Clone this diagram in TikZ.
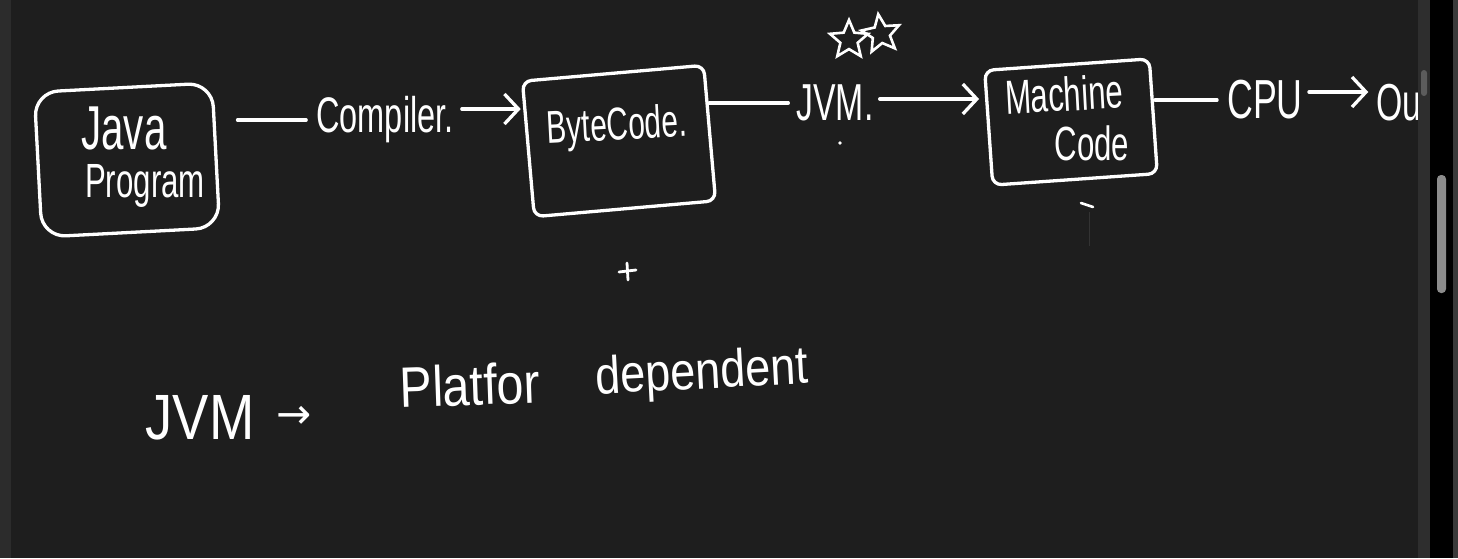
\documentclass[tikz,border=0pt]{standalone}
\usepackage{fontspec}
\setmainfont{Liberation Sans}
\newfontfamily\handfont[FakeStretch=0.65]{Liberation Sans}
\newfontfamily\handwide[FakeStretch=0.85]{Liberation Sans}
\newfontfamily\symfont{DejaVu Sans}
\usetikzlibrary{arrows.meta,shapes.geometric}
\definecolor{canvas}{HTML}{1E1E1E}
\definecolor{leftstrip}{HTML}{2C2C2C}
\definecolor{panel}{HTML}{2E2E2E}
\definecolor{edgestrip}{HTML}{3A3A3A}
\definecolor{thumbA}{HTML}{5C5C5C}
\definecolor{thumbB}{HTML}{8C8C8C}
\definecolor{faint}{HTML}{333333}
\tikzset{
  hand/.style={draw=white, line width=3.3pt, line cap=round, line join=round},
  handbox/.style={draw=white, line width=3.3pt, inner sep=0pt},
  lbl/.style={text=white, inner sep=0pt},
  arr/.style={-{Straight Barb[length=14pt,width=30pt,line width=3.3pt]}},
  starmark/.style={star, star points=5, star point ratio=2.2, draw=white, line width=2.6pt, minimum size=40pt, inner sep=0pt}
}
\begin{document}
\begin{tikzpicture}[x=1pt,y=-1pt]
\fill[canvas] (0,0) rectangle (1458,558);
\useasboundingbox (0,0) rectangle (1458,558);
\fill[leftstrip] (0,0) rectangle (11,558);

% boxes
\node[handbox, rounded corners=24pt, minimum width=178pt, minimum height=145pt, rotate=3] (java) at (127,160) {};
\node[handbox, rounded corners=9pt, minimum width=182pt, minimum height=136pt, rotate=5] (bytecode) at (619,141) {};
\node[handbox, rounded corners=9pt, minimum width=165pt, minimum height=115pt, rotate=4] (machine) at (1071,122) {};

% box labels
\node[lbl, font=\handfont\fontsize{62}{62}\selectfont] (javat) at (124,128) {Java};
\node[lbl, font=\handfont\fontsize{48}{48}\selectfont] (programt) at (145,186) {Program};
\node[lbl, font=\handfont\fontsize{46}{46}\selectfont, rotate=3] (bytecodet) at (617,128) {ByteCode.};
\node[lbl, font=\handfont\fontsize{48}{48}\selectfont, rotate=3] (machinet) at (1064,94) {Machine};
\node[lbl, font=\handfont\fontsize{48}{48}\selectfont] (codet) at (1092,143) {Code};

% chain labels
\node[lbl, font=\handfont\fontsize{50}{50}\selectfont] (compiler) at (385,120) {Compiler.};
\node[lbl, font=\handfont\fontsize{52}{52}\selectfont] (jvm) at (835,103) {JVM.};
\node[lbl, font=\handfont\fontsize{55}{55}\selectfont] (cpu) at (1265,100) {CPU};
\node[lbl, font=\handfont\fontsize{52}{52}\selectfont] (ou) at (1399,103) {Ou};

% stars
\node[starmark] (star1) at (849,40) {};
\node[starmark, rotate=8] (star2) at (881,34) {};

% connectors
\draw[hand, shorten <=20pt, shorten >=10pt] (java.east |- compiler.west) -- (compiler.west);
\coordinate (c1) at ([yshift=11pt]compiler.east);
\draw[hand, arr, shorten <=8pt, shorten >=6pt] (c1) -- (c1 -| bytecode.west);
\draw[hand, shorten <=-2pt, shorten >=8pt] (bytecode.east |- jvm.west) -- (jvm.west);
\coordinate (c2) at ([yshift=4pt]jvm.east);
\draw[hand, arr, shorten <=6pt, shorten >=8pt] (c2) -- (c2 -| machine.west);
\draw[hand, shorten >=10pt] (machine.east |- cpu.west) -- (cpu.west);
\coordinate (c3) at ([yshift=8pt]cpu.east);
\draw[hand, arr, shorten <=6pt, shorten >=8pt] (c3) -- (c3 -| ou.west);

% stray marks
\fill[white] (840,143) circle (1.8pt);
\draw[hand, line width=2.8pt] (619,272) -- (636,270);
\draw[hand, line width=2.8pt] (627,263) -- (628,280);
\draw[hand, line width=2.6pt] (1081,203) -- (1093,207);
\draw[faint, line width=1pt] (1089,212) -- (1089,246);

% bottom note
\node[lbl, font=\handwide\fontsize{64}{64}\selectfont] (jvmb) at (200,418) {JVM};
\node[lbl, font=\symfont\fontsize{42}{42}\selectfont] (arrowb) at (294,417) {→};
\node[lbl, font=\handwide\fontsize{57}{57}\selectfont, rotate=2] (platfor) at (470,385) {Platfor};
\node[lbl, font=\handwide\fontsize{53}{53}\selectfont, rotate=3] (dependent) at (702,375) {dependent};

% right panel (scrollbars)
\fill[panel] (1418,0) rectangle (1430,558);
\fill[black] (1430,0) rectangle (1453,558);
\fill[edgestrip] (1453,0) rectangle (1458,558);
\fill[thumbA, rounded corners=3pt] (1421,70) rectangle (1427,96);
\fill[thumbB, rounded corners=4pt] (1437,175) rectangle (1446,293);
\end{tikzpicture}
\end{document}
